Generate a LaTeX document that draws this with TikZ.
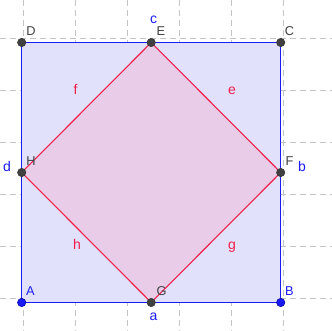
\documentclass[tikz,border=0pt]{standalone}
\usepackage{fontspec}
\setmainfont{Liberation Sans}
\definecolor{outerfill}{HTML}{E1E1FB}
\definecolor{innerfill}{HTML}{E8CCE8}
\definecolor{bluedge}{HTML}{1A1AF5}
\definecolor{rededge}{HTML}{F0204A}
\definecolor{ptdark}{HTML}{404040}
\definecolor{gridgray}{HTML}{C4C4C4}
\tikzset{
  gridline/.style={draw=gridgray, line width=0.9pt, dash pattern=on 6pt off 4pt},
  outeredge/.style={draw=bluedge, line width=1.4pt},
  inneredge/.style={draw=rededge, line width=1.1pt},
  darkpt/.style={circle, fill=ptdark, draw=black!80, line width=0.5pt, minimum size=8.4pt, inner sep=0pt},
  bluept/.style={circle, fill=bluedge, draw=blue!60!black, line width=0.5pt, minimum size=8.4pt, inner sep=0pt},
  ptlabel/.style={anchor=base, inner sep=0pt, text=ptdark, font=\fontsize{12.8}{13}\selectfont},
  seglabelblue/.style={anchor=base, inner sep=0pt, text=bluedge, font=\fontsize{14}{15}\selectfont},
  seglabelred/.style={anchor=base, inner sep=0pt, text=rededge, font=\fontsize{14}{15}\selectfont},
  bluelabel/.style={anchor=base, inner sep=0pt, text=bluedge, font=\fontsize{12.8}{13}\selectfont}
}
\begin{document}
\begin{tikzpicture}[x=1pt,y=-1pt]
\useasboundingbox (0,0) rectangle (332,331);
% grid
\foreach \gx in {23.5,75.4,127.3,179.2,231.1,283.0} {
  \draw[gridline] (\gx,0) -- (\gx,331);
}
\foreach \gy in {38.7,90.6,142.5,194.4,246.3,298.2} {
  \draw[gridline] (0,\gy) -- (332,\gy);
}
% vertices
\coordinate (A) at (21.7,302.5);
\coordinate (B) at (280.7,302.5);
\coordinate (C) at (280.7,42.5);
\coordinate (D) at (21.7,42.5);
\coordinate (G) at (151.2,302.5);
\coordinate (F) at (280.7,172.5);
\coordinate (E) at (151.2,42.5);
\coordinate (H) at (21.7,172.5);
% squares
\fill[outerfill] (A) -- (B) -- (C) -- (D) -- cycle;
\fill[innerfill] (G) -- (F) -- (E) -- (H) -- cycle;
\draw[outeredge] (A) -- (B);
\draw[outeredge] (B) -- (C);
\draw[outeredge] (C) -- (D);
\draw[outeredge] (D) -- (A);
\draw[inneredge] (G) -- (F);
\draw[inneredge] (F) -- (E);
\draw[inneredge] (E) -- (H);
\draw[inneredge] (H) -- (G);
% points
\node[bluept] (pA) at (A) {};
\node[bluept] (pB) at (B) {};
\node[darkpt] (pC) at (C) {};
\node[darkpt] (pD) at (D) {};
\node[darkpt] (pE) at (E) {};
\node[darkpt] (pF) at (F) {};
\node[darkpt] (pG) at (G) {};
\node[darkpt] (pH) at (H) {};
% point labels
\node[bluelabel] (lA) at (30.5,295.5) {A};
\node[bluelabel] (lB) at (289.5,295.5) {B};
\node[ptlabel] (lC) at (289.5,35.5) {C};
\node[ptlabel] (lD) at (31,35.5) {D};
\node[ptlabel] (lE) at (161,35.5) {E};
\node[ptlabel] (lF) at (289.5,165.5) {F};
\node[ptlabel] (lG) at (161.5,295.5) {G};
\node[ptlabel] (lH) at (31,165.5) {H};
% segment labels
\node[seglabelblue] (la) at (153.5,320) {a};
\node[seglabelblue] (lb) at (302,171.7) {b};
\node[seglabelblue] (lc) at (153.5,24) {c};
\node[seglabelblue] (ld) at (7,171.7) {d};
\node[seglabelred] (le) at (232,94.3) {e};
\node[seglabelred] (lf) at (75.5,95) {f};
\node[seglabelred] (lg) at (232,249.4) {g};
\node[seglabelred] (lh) at (77,250) {h};
\end{tikzpicture}
\end{document}
